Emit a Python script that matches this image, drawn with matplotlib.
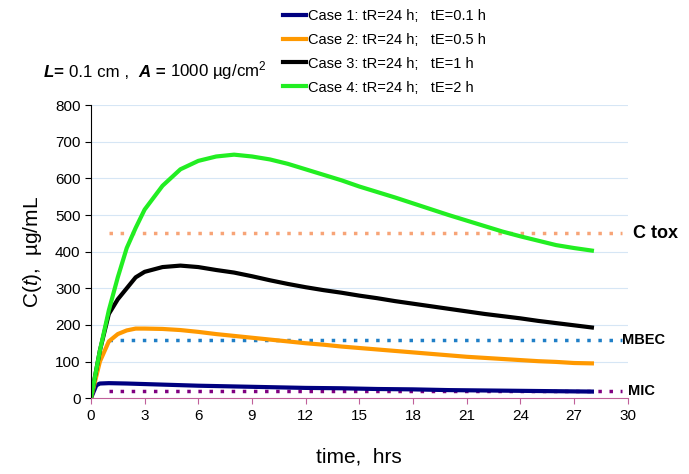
import matplotlib.pyplot as plt
import numpy as np

plt.rcParams['font.family'] = ['Liberation Sans', 'DejaVu Sans']
plt.rcParams['mathtext.fontset'] = 'custom'
plt.rcParams['mathtext.rm'] = 'Liberation Sans'
plt.rcParams['mathtext.it'] = 'Liberation Sans:italic'
plt.rcParams['mathtext.bf'] = 'Liberation Sans:bold'

# 时间点 (hrs)
t_case1 = [0, 0.3, 0.5, 1, 2, 4, 6, 8, 10, 12, 14, 16, 18, 20, 22, 24, 26, 28]
c_case1 = [0, 35, 40, 41, 40, 37, 34, 32, 30, 28, 27, 25, 24, 22, 21, 20, 19, 18]

t_case = [0, 0.5, 1, 1.5, 2, 2.5, 3, 4, 5, 6, 7, 8, 9, 10, 11, 12, 13, 14,
          15, 16, 17, 18, 19, 20, 21, 22, 23, 24, 25, 26, 27, 28]
c_case2 = [0, 100, 155, 175, 185, 190, 190, 189, 186, 181, 175, 170, 165, 160,
           155, 150, 146, 141, 137, 133, 129, 125, 121, 117, 113, 110, 107, 104,
           101, 99, 96, 95]
c_case3 = [0, 130, 230, 270, 300, 330, 345, 358, 362, 358, 350, 343, 333, 322,
           312, 303, 295, 288, 280, 273, 265, 258, 251, 244, 237, 230, 224, 218,
           211, 205, 199, 193]
c_case4 = [0, 130, 240, 330, 410, 465, 515, 580, 625, 648, 660, 665, 660, 652,
           640, 625, 610, 595, 578, 563, 548, 532, 516, 500, 485, 470, 455, 442,
           430, 418, 410, 403]

labels = ['Case 1: tR=24 h;   tE=0.1 h', 'Case 2: tR=24 h;   tE=0.5 h',
          'Case 3: tR=24 h;   tE=1 h', 'Case 4: tR=24 h;   tE=2 h']
colors = ['#000080', '#FF9900', '#000000', '#22EE22']

# 参考浓度
ref_names = ['C tox', 'MBEC', 'MIC']
ref_values = [450, 160, 20]
ref_colors = ['#F7A477', '#1F7FC7', '#800080']
ref_x = [1.0, 29.7]

fig = plt.figure(figsize=(6.89, 4.74), dpi=100)
ax = fig.add_axes([0.132, 0.160, 0.779, 0.618])

for yv in range(100, 900, 100):
    ax.axhline(yv, color='#D6E6F5', linewidth=0.8, zorder=0)

for val, col in zip(ref_values, ref_colors):
    ax.plot(ref_x, [val, val], linestyle=(0, (1, 2.2)), color=col, linewidth=2.5,
            zorder=1)

series = [(t_case1, c_case1), (t_case, c_case2), (t_case, c_case3), (t_case, c_case4)]
lines = []
for (tx, cy), col, lab in zip(series, colors, labels):
    ln, = ax.plot(tx, cy, color=col, linewidth=3, label=lab, zorder=2)
    lines.append(ln)

ax.text(30.3, 450, ref_names[0], fontsize=13, fontweight='bold', va='center', ha='left')
ax.text(29.7, 160, ref_names[1], fontsize=10.5, fontweight='bold', va='center', ha='left')
ax.text(30.0, 20, ref_names[2], fontsize=10.5, fontweight='bold', va='center', ha='left')

ax.set_xlim(0, 30)
ax.set_ylim(0, 800)
ax.set_xticks(range(0, 31, 3))
ax.set_yticks(range(0, 801, 100))
ax.tick_params(axis='both', labelsize=11, length=4)
ax.tick_params(axis='x', color='#C0609A')
ax.spines['top'].set_visible(False)
ax.spines['right'].set_visible(False)
ax.spines['bottom'].set_color('#C0609A')
ax.spines['left'].set_color('black')

ax.set_xlabel('time,  hrs', fontsize=15, labelpad=18)
ax.set_ylabel(r'C($\mathit{t}$),  µg/mL', fontsize=15, labelpad=8)

# 标题: 分段拼接, 同一基线 (粗斜体 L, A)
parts = [('L', 'bold', 'italic'), ('= ', 'bold', 'normal'),
         ('0.1 cm ,  ', 'normal', 'normal'), ('A', 'bold', 'italic'),
         (' = ', 'bold', 'normal'), ('1000 µg/cm$^2$', 'normal', 'normal')]
renderer = fig.canvas.get_renderer()
x_pos = 0.064
for txt, wt, st in parts:
    t = fig.text(x_pos, 0.838, txt, fontsize=12.2, fontweight=wt, fontstyle=st,
                 ha='left', va='baseline')
    x_pos += t.get_window_extent(renderer).width / fig.bbox.width

fig.legend(handles=lines, loc='upper left', bbox_to_anchor=(0.398, 1.0),
           frameon=False, fontsize=10.5, handlelength=1.55, handletextpad=0.15,
           labelspacing=0.68, borderaxespad=0.2)

plt.savefig('out.png', dpi=100)
